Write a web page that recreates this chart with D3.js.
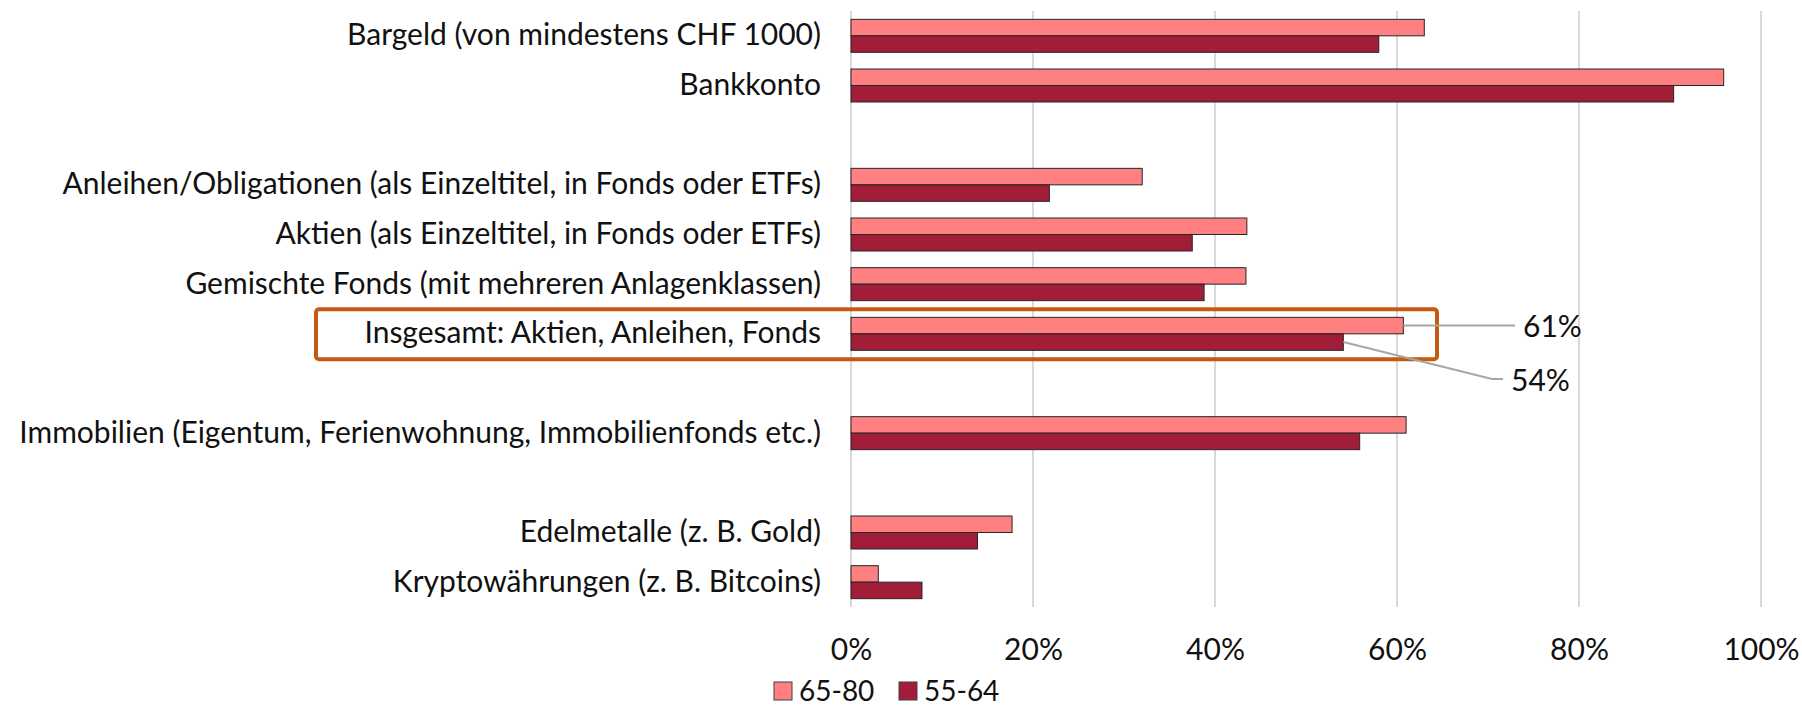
<!DOCTYPE html>
<html>
<head>
<meta charset="utf-8">
<script src="https://cdn.jsdelivr.net/npm/d3@7"></script>
<style>
  body { margin: 0; background: #fff; }
  svg { display: block; font-family: Lato, "Noto Sans", sans-serif; }
</style>
</head>
<body>
<svg width="1802" height="709"></svg>
<script>
// rows top to bottom, '' = empty spacer row
const categories = [
  'Bargeld (von mindestens CHF 1000)',
  'Bankkonto',
  '',
  'Anleihen/Obligationen (als Einzeltitel, in Fonds oder ETFs)',
  'Aktien (als Einzeltitel, in Fonds oder ETFs)',
  'Gemischte Fonds (mit mehreren Anlagenklassen)',
  'Insgesamt: Aktien, Anleihen, Fonds',
  '',
  'Immobilien (Eigentum, Ferienwohnung, Immobilienfonds etc.)',
  '',
  'Edelmetalle (z. B. Gold)',
  'Kryptowährungen (z. B. Bitcoins)'
];
const seriesNames = ['65-80', '55-64'];
const old6580 = [0.63, 0.959, null, 0.32, 0.435, 0.434, 0.607, null, 0.61, null, 0.177, 0.03];
const mid5564 = [0.58, 0.904, null, 0.218, 0.375, 0.388, 0.541, null, 0.559, null, 0.139, 0.078];
const xTicks = [0, 0.2, 0.4, 0.6, 0.8, 1];
const highlightRow = 6; // Insgesamt
const calloutLabels = ['61%', '54%'];

const colors = {'65-80': '#FF8080', '55-64': '#A11D38'};

const svg = d3.select('svg');
const FONT = 30;

const x = d3.scaleLinear().domain([0, 1]).range([851, 1761]);
const y0 = d3.scaleBand().domain(d3.range(categories.length)).range([11, 607])
  .paddingInner(0.336).paddingOuter(0.168);
const y1 = d3.scaleBand().domain(seriesNames).range([0, y0.bandwidth()]);

// gridlines
svg.append('g').selectAll('line').data(xTicks).enter().append('line')
  .attr('x1', d => x(d)).attr('x2', d => x(d))
  .attr('y1', 11).attr('y2', 607)
  .attr('stroke', '#D9D9D9').attr('stroke-width', 2);

// bars
const rows = categories.map((c, i) => ({i, values: [
  {s: '65-80', v: old6580[i]}, {s: '55-64', v: mid5564[i]}]}))
  .filter(r => categories[r.i] !== '');

svg.append('g').selectAll('g').data(rows).enter().append('g')
  .attr('transform', d => `translate(0,${y0(d.i)})`)
  .selectAll('rect').data(d => d.values).enter().append('rect')
  .attr('x', x(0))
  .attr('y', d => y1(d.s))
  .attr('width', d => x(d.v) - x(0))
  .attr('height', y1.bandwidth())
  .attr('fill', d => colors[d.s])
  .attr('stroke', '#262626').attr('stroke-width', 1);

// category labels
const yAxis = d3.axisLeft(y0).tickSize(0).tickPadding(30).tickFormat(i => categories[i]);
svg.append('g').attr('transform', `translate(${x(0)},0)`).call(yAxis)
  .call(g => g.select('.domain').remove())
  .selectAll('text').attr('font-size', FONT).attr('font-family', 'Lato').attr('fill', '#111');

// x axis ticks
const xAxis = d3.axisBottom(x).tickValues(xTicks).tickSize(0).tickPadding(0)
  .tickFormat(d3.format('.0%'));
svg.append('g').attr('transform', 'translate(0,649)').call(xAxis)
  .call(g => g.select('.domain').remove())
  .selectAll('text').attr('dy', '0.35em').attr('font-size', FONT)
  .attr('font-family', 'Lato').attr('fill', '#111');

// highlight box
svg.append('rect')
  .attr('x', 316).attr('y', y0(highlightRow) - 8)
  .attr('width', 1121).attr('height', y0.bandwidth() + 17)
  .attr('rx', 3)
  .attr('fill', 'none').attr('stroke', '#C55A11').attr('stroke-width', 4);

// callouts
const hy = y0(highlightRow);
const c1y = hy + y1('65-80') + y1.bandwidth() / 2;
const c2y = hy + y1('55-64') + y1.bandwidth() / 2;
svg.append('path')
  .attr('d', `M${x(old6580[highlightRow])},${c1y}H1515`)
  .attr('fill', 'none').attr('stroke', '#A6A6A6').attr('stroke-width', 2);
svg.append('path')
  .attr('d', `M${x(mid5564[highlightRow])},${c2y}L1492,379H1503`)
  .attr('fill', 'none').attr('stroke', '#A6A6A6').attr('stroke-width', 2);
svg.append('text').attr('x', 1523).attr('y', c1y + 1).attr('dy', '0.35em')
  .attr('font-size', FONT).attr('fill', '#111').text(calloutLabels[0]);
svg.append('text').attr('x', 1511).attr('y', 380).attr('dy', '0.35em')
  .attr('font-size', FONT).attr('fill', '#111').text(calloutLabels[1]);

// legend
const legend = svg.append('g').selectAll('g').data(seriesNames).enter().append('g')
  .attr('transform', (d, i) => `translate(${[774, 899][i]},682)`);
legend.append('rect').attr('width', 18).attr('height', 18)
  .attr('fill', d => colors[d]).attr('stroke', '#404040').attr('stroke-width', 1);
legend.append('text').attr('x', 25).attr('y', 9).attr('dy', '0.35em')
  .attr('font-size', 28).attr('fill', '#111').text(d => d);
</script>
</body>
</html>
